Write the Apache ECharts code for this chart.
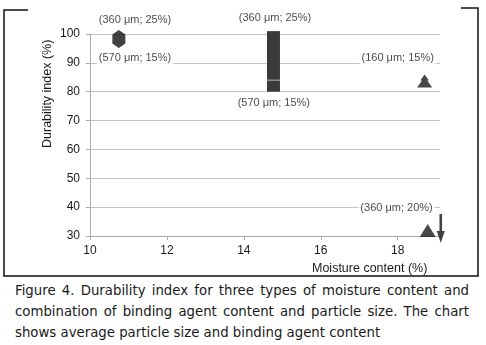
<!DOCTYPE html>
<html lang="en">
<head>
	<meta charset="UTF-8">
	<title>Durability index</title>
	<style type="text/css">
		body{ margin:0; background:#fff; }
		#a{ width:486px; height:280px; }
		#cap{
			position:absolute; left:15px; top:280px; width:454px;
			font-family:"DejaVu Sans", sans-serif; font-size:13.3px; line-height:21px; color:#1a1a1a;
		}
		#cap span{ display:block; }
		#cap .j{ text-align:justify; text-align-last:justify; }
	</style>
</head>
<body>
	<div id="a"></div>
	<div id="cap">
		<span class="j">Figure 4. Durability index for three types of moisture content and</span>
		<span class="j">combination of binding agent content and particle size. The chart</span>
		<span>shows average particle size and binding agent content</span>
	</div>
	<script type="text/javascript" src="https://cdn.jsdelivr.net/npm/echarts@6/dist/echarts.min.js"></script>
	<script type="text/javascript">
		// tick values
		var xTicks = [10, 12, 14, 16, 18];

		// hexagon marker (moisture, durability)
		var hexPts = [[10.75, 98.3]];
		// stacked box at 14.8 %: low, split, high
		var boxX = [14.77];
		var boxLow = [80];
		var boxMid = [84];
		var boxHigh = [101];
		// triangles
		var treePts = [[18.7, 83.7]];
		var triPts = [[18.78, 31.9]];
		// down arrow
		var arrowPts = [[19.12, 32.6]];

		// annotation labels [x, y, text]
		var notes = [
			[11.17, 104.8, '(360 μm; 25%)'],
			[11.17, 91.7, '(570 μm; 15%)'],
			[14.81, 105.4, '(360 μm; 25%)'],
			[14.78, 76.1, '(570 μm; 15%)'],
			[18.0, 91.7, '(160 μm; 15%)'],
			[17.97, 39.7, '(360 μm; 20%)']
		];

		var myChart = echarts.init(document.getElementById('a'));

		var boxData = [];
		for (var i = 0; i < boxX.length; i++) {
			boxData.push([boxX[i], boxLow[i], boxMid[i], boxHigh[i]]);
		}

		var font = 'Liberation Sans, Arial, sans-serif';

		var option = {
			animation: false,
			grid: { left: 90, right: 46, top: 34, bottom: 44 },
			xAxis: {
				type: 'value', min: 10, max: 19.1, interval: 2,
				axisLine: { lineStyle: { color: '#aaa' } },
				axisTick: { show: true, length: 4, customValues: xTicks, lineStyle: { color: '#aaa' } },
				axisLabel: { customValues: xTicks, color: '#1a1a1a', fontSize: 12, fontFamily: font, margin: 9 },
				splitLine: { show: false }
			},
			yAxis: {
				type: 'value', min: 30, max: 100, interval: 10,
				axisLine: { show: true, lineStyle: { color: '#aaa' } },
				axisTick: { show: true, length: 4, lineStyle: { color: '#aaa' } },
				axisLabel: { color: '#1a1a1a', fontSize: 12, fontFamily: font, margin: 10 },
				splitLine: { lineStyle: { color: '#c4c4c4' } }
			},
			graphic: [
				// frame round the chart
				{ type: 'polyline', shape: { points: [[28, 10], [4, 10], [4, 276], [478, 276], [478, 8], [461, 8]] },
					style: { stroke: '#111', lineWidth: 1.5, fill: null } },
				{ type: 'text', left: 312, top: 262,
					style: { text: 'Moisture content (%)', font: '12.5px ' + font, fill: '#1a1a1a' } },
				{ type: 'text', x: 41, y: 148, rotation: Math.PI / 2,
					style: { text: 'Durability index (%)', font: '12.5px ' + font, fill: '#1a1a1a' } }
			],
			series: [
				{
					type: 'custom',
					clip: false,
					renderItem: function (params, api) {
						var lo = api.coord([api.value(0), api.value(1)]);
						var mid = api.coord([api.value(0), api.value(2)]);
						var hi = api.coord([api.value(0), api.value(3)]);
						var w = 13;
						return {
							type: 'group',
							children: [
								{ type: 'rect', shape: { x: lo[0] - w / 2, y: hi[1], width: w, height: lo[1] - hi[1] },
									style: { fill: '#3a3a3a' } },
								{ type: 'line', shape: { x1: lo[0] - w / 2, y1: mid[1], x2: lo[0] + w / 2, y2: mid[1] },
									style: { stroke: '#bbb', lineWidth: 1 } }
							]
						};
					},
					data: boxData,
					z: 3
				},
				{
					type: 'scatter', data: hexPts, clip: false,
					symbol: 'path://M0,-9L6,-4.5L6,4.5L0,9L-6,4.5L-6,-4.5Z',
					symbolSize: [13, 18], itemStyle: { color: '#111' }, z: 3
				},
				{
					type: 'scatter', data: treePts, clip: false,
					symbol: 'path://M0,0L4,5L2.5,5L7,11L-7,11L-2.5,5L-4,5Z',
					symbolSize: [15, 13], itemStyle: { color: '#1a1a1a' }, z: 3
				},
				{
					type: 'scatter', data: triPts, clip: false,
					symbol: 'triangle', symbolSize: [16, 13], itemStyle: { color: '#1a1a1a' }, z: 3
				},
				{
					type: 'scatter', data: arrowPts, clip: false,
					symbol: 'path://M-1.3,0L1.3,0L1.3,17L4,17L0,29L-4,17L-1.3,17Z',
					symbolSize: [8, 29], itemStyle: { color: '#111' }, z: 3
				},
				{
					type: 'scatter', data: notes, clip: false,
					symbolSize: 0,
					label: {
						show: true, position: 'inside',
						formatter: function (p) { return p.data[2]; },
						color: '#1a1a1a', fontSize: 11, fontFamily: font,
						backgroundColor: '#fff', padding: [1, 2]
					},
					z: 4
				}
			]
		};

		myChart.setOption(option);
	</script>
</body>
</html>
